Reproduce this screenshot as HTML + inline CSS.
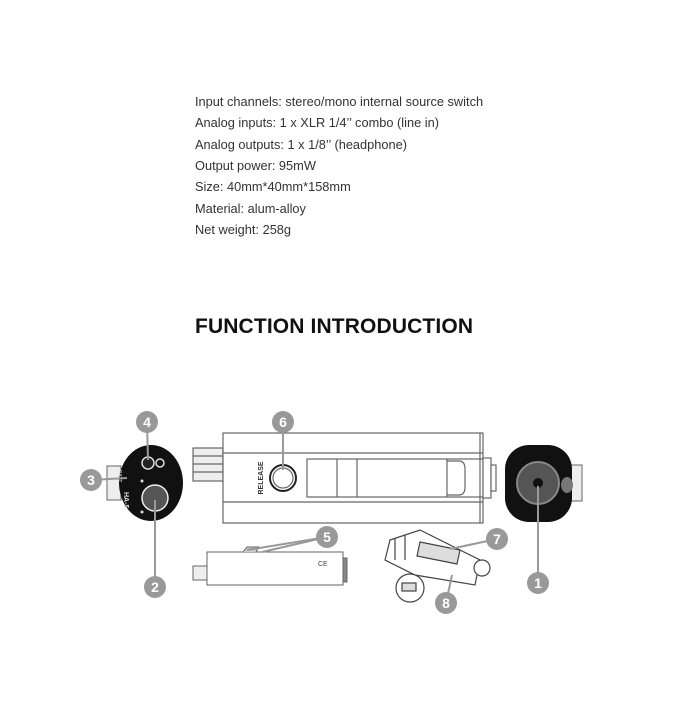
<!DOCTYPE html>
<html><head><style>body{margin:0;background:#fff}</style></head><body>
<svg width="700" height="700" viewBox="0 0 700 700" xmlns="http://www.w3.org/2000/svg" font-family="Liberation Sans, sans-serif">
<g font-size="12.8" fill="#333">
<text x="195" y="106">Input channels: stereo/mono internal source switch</text>
<text x="195" y="127">Analog inputs: 1 x XLR 1/4’’ combo (line in)</text>
<text x="195" y="149">Analog outputs: 1 x 1/8’’ (headphone)</text>
<text x="195" y="170">Output power: 95mW</text>
<text x="195" y="191">Size: 40mm*40mm*158mm</text>
<text x="195" y="213">Material: alum-alloy</text>
<text x="195" y="234">Net weight: 258g</text>
</g>
<text x="195" y="333" font-size="21" font-weight="bold" fill="#111" textLength="278">FUNCTION INTRODUCTION</text>

<!-- main device -->
<g stroke="#666" fill="#fff" stroke-width="1.2">
<rect x="193" y="448" width="30" height="33" fill="#eee"/>
<line x1="193" y1="456" x2="223" y2="456"/><line x1="193" y1="464" x2="223" y2="464"/><line x1="193" y1="472" x2="223" y2="472"/>
<rect x="223" y="433" width="260" height="90"/>
<line x1="223" y1="453" x2="483" y2="453"/><line x1="223" y1="502" x2="483" y2="502"/>
<rect x="307" y="459" width="176" height="38"/>
<line x1="337" y1="459" x2="337" y2="497"/><line x1="357" y1="459" x2="357" y2="497"/><line x1="447" y1="459" x2="447" y2="497"/>
<path d="M447 461 h12 q6 0 6 8 v18 q0 8 -6 8 h-12" fill="none"/>
<rect x="483" y="458" width="8" height="40"/><rect x="491" y="465" width="5" height="26"/>
<line x1="480" y1="433" x2="480" y2="523"/>
<circle cx="283" cy="478" r="13" stroke="#222" stroke-width="2"/>
<circle cx="283" cy="478" r="10"/>
</g>
<text x="263" y="478" font-size="7" font-weight="bold" fill="#333" transform="rotate(-90 263 478)" text-anchor="middle">RELEASE</text>

<!-- left face -->
<rect x="107" y="466" width="14" height="34" fill="#eee" stroke="#666"/>
<ellipse cx="151" cy="483" rx="32" ry="38" fill="#111"/>
<circle cx="148" cy="463" r="6" fill="#222" stroke="#ddd" stroke-width="1.5"/>
<circle cx="160" cy="463" r="4" fill="none" stroke="#ddd" stroke-width="1.5"/>
<circle cx="155" cy="498" r="13" fill="#555" stroke="#eee" stroke-width="1.5"/>
<text x="126" y="478" font-size="5" fill="#ddd" transform="rotate(90 126 470)">BATT</text>
<text x="124" y="492" font-size="7" font-weight="bold" fill="#ddd" transform="rotate(90 124 492)">HA-5</text>
<circle cx="142" cy="512" r="1.5" fill="#ddd"/><circle cx="142" cy="481" r="1.5" fill="#ddd"/>

<!-- right face -->
<rect x="568" y="465" width="14" height="36" fill="#eee" stroke="#666"/>
<rect x="505" y="445" width="67" height="77" rx="24" fill="#111"/>
<circle cx="538" cy="483" r="21" fill="#555" stroke="#888" stroke-width="2"/>
<circle cx="538" cy="483" r="5" fill="#111"/>
<ellipse cx="567" cy="485" rx="6" ry="8" fill="#777"/>

<!-- small device 5 -->
<g stroke="#666" fill="#fff">
<rect x="193" y="566" width="14" height="14" fill="#eee"/>
<rect x="207" y="552" width="136" height="33"/>
<path d="M243 552 l4 -5 h12 l-3 5" fill="#ccc"/>
<rect x="343" y="558" width="4" height="24" fill="#888"/>
</g>
<text x="318" y="566" font-size="7" fill="#444">CE</text>

<!-- bracket 7/8 -->
<g stroke="#444" fill="#fff" stroke-width="1.2">
<path d="M390 540 l30 -10 l60 30 l-5 25 l-60 -10 l-30 -15 z"/>
<path d="M420 542 l40 8 l-3 14 l-40 -8 z" fill="#ddd"/>
<path d="M395 538 v22 M405 535 v25"/>
<circle cx="482" cy="568" r="8"/>
<circle cx="410" cy="588" r="14"/>
<rect x="402" y="583" width="14" height="8" fill="#ddd"/>
</g>

<!-- leader lines -->
<g stroke="#999" stroke-width="2">
<line x1="147" y1="422" x2="148" y2="460"/>
<line x1="91" y1="480" x2="127" y2="478"/>
<line x1="155" y1="587" x2="155" y2="500"/>
<line x1="283" y1="422" x2="283" y2="470"/>
<line x1="327" y1="537" x2="247" y2="550"/>
<line x1="327" y1="537" x2="262" y2="552"/>
<line x1="538" y1="583" x2="538" y2="486"/>
<line x1="497" y1="539" x2="450" y2="549"/>
<line x1="446" y1="603" x2="452" y2="575"/>
</g>
<g fill="#999">
<circle cx="147" cy="422" r="11"/><circle cx="91" cy="480" r="11"/><circle cx="155" cy="587" r="11"/>
<circle cx="283" cy="422" r="11"/><circle cx="327" cy="537" r="11"/><circle cx="538" cy="583" r="11"/>
<circle cx="497" cy="539" r="11"/><circle cx="446" cy="603" r="11"/>
</g>
<g fill="#fff" font-size="14" font-weight="bold" text-anchor="middle">
<text x="147" y="427">4</text><text x="91" y="485">3</text><text x="155" y="592">2</text>
<text x="283" y="427">6</text><text x="327" y="542">5</text><text x="538" y="588">1</text>
<text x="497" y="544">7</text><text x="446" y="608">8</text>
</g>
</svg>
</body></html>
